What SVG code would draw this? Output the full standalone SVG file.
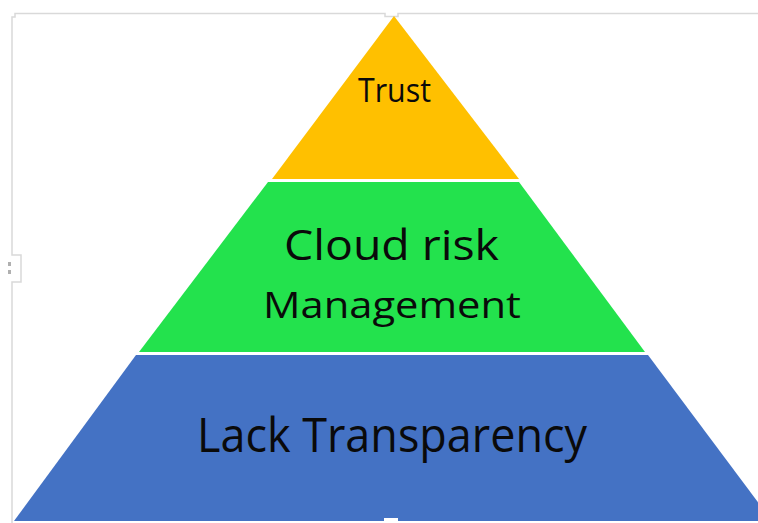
<svg xmlns="http://www.w3.org/2000/svg" width="758" height="523" viewBox="0 0 758 523">
  <style>
    .frame { fill: none; stroke: #d9d9d9; stroke-width: 1.5; }
    .lbl { font-family: "Open Sans", "Liberation Sans", sans-serif; fill: #0a0a0a; }
  </style>
  <rect width="758" height="523" fill="#ffffff"/>
  <g id="frame">
    <path class="frame" d="M12,523 V282 H21 V255 H12 V17 H15 V13.5 H385 V16.5 H398 V13.5 H758"/>
    <rect x="8" y="262" width="3" height="4" fill="#b0b0b0"/>
    <rect x="8" y="270" width="3" height="4" fill="#b0b0b0"/>
  </g>
  <g id="layer-trust">
    <polygon points="394,16 272,179 519,179" fill="#FFC000"/>
    <text class="lbl" x="358" y="102" font-size="32" textLength="73" lengthAdjust="spacingAndGlyphs">Trust</text>
  </g>
  <g id="layer-cloud-risk">
    <polygon points="268,182 519,182 645,352 139,352" fill="#23E24D"/>
    <text class="lbl" x="284" y="260" font-size="42" textLength="215" lengthAdjust="spacingAndGlyphs">Cloud risk</text>
    <text class="lbl" x="263" y="318" font-size="36" textLength="258" lengthAdjust="spacingAndGlyphs">Management</text>
  </g>
  <g id="layer-lack-transparency">
    <polygon points="136,355 648,355 772,521 14,521" fill="#4472C4"/>
    <text class="lbl" x="197" y="452" font-size="47" textLength="390" lengthAdjust="spacingAndGlyphs">Lack Transparency</text>
  </g>
  <g id="connectors"></g>
  <rect x="384" y="518" width="14" height="5" fill="#ffffff"/>
</svg>
